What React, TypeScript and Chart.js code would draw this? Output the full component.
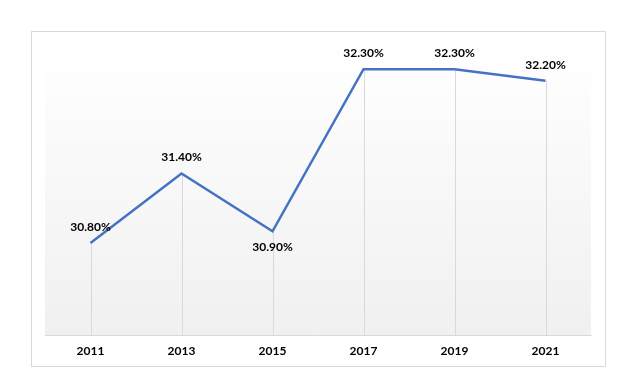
import React, { useEffect, useRef } from "react";
import { Chart, registerables } from "chart.js";

Chart.register(...registerables);

const years = ["2011", "2013", "2015", "2017", "2019", "2021"];
const values = [30.8, 31.4, 30.9, 32.3, 32.3, 32.2];
const labelBelow = [false, false, true, false, false, false];
const yMin = 30;
const yMax = 32.5;

const FONT = "Lato, 'Open Sans', sans-serif";

const decorPlugin = {
  id: "decor",
  beforeDraw(chart: any) {
    const { ctx, chartArea } = chart;
    ctx.save();
    ctx.fillStyle = "#ffffff";
    ctx.fillRect(0, 0, chart.width, chart.height);
    ctx.strokeStyle = "#d9d9d9";
    ctx.lineWidth = 1;
    ctx.strokeRect(31.5, 31.5, 574, 335);
    const g = ctx.createLinearGradient(0, chartArea.top, 0, chartArea.bottom);
    g.addColorStop(0, "#ffffff");
    g.addColorStop(1, "#f0f0f0");
    ctx.fillStyle = g;
    ctx.fillRect(chartArea.left, chartArea.top, chartArea.right - chartArea.left, chartArea.bottom - chartArea.top);
    ctx.restore();
  },
  beforeDatasetsDraw(chart: any) {
    const { ctx, chartArea } = chart;
    const meta = chart.getDatasetMeta(0);
    ctx.save();
    ctx.strokeStyle = "#d9d9d9";
    ctx.lineWidth = 1;
    meta.data.forEach((pt: any) => {
      const x = Math.round(pt.x) + 0.5;
      ctx.beginPath();
      ctx.moveTo(x, pt.y);
      ctx.lineTo(x, chartArea.bottom);
      ctx.stroke();
    });
    ctx.restore();
  },
  afterDatasetsDraw(chart: any) {
    const { ctx } = chart;
    const meta = chart.getDatasetMeta(0);
    ctx.save();
    ctx.fillStyle = "#000000";
    ctx.font = `bold 12px ${FONT}`;
    ctx.textAlign = "center";
    ctx.textBaseline = "middle";
    meta.data.forEach((pt: any, i: number) => {
      const txt = values[i].toFixed(2) + "%";
      const y = labelBelow[i] ? pt.y + 16 : pt.y - 16;
      ctx.fillText(txt, pt.x, y);
    });
    ctx.restore();
  },
};

export default function App() {
  const ref = useRef<HTMLCanvasElement>(null);
  useEffect(() => {
    document.body.style.margin = "0";
    const chart = new Chart(ref.current!, {
      type: "line",
      data: {
        labels: years,
        datasets: [
          {
            data: values,
            borderColor: "#4472C4",
            borderWidth: 2.5,
            pointRadius: 0,
            tension: 0,
            fill: false,
          },
        ],
      },
      options: {
        animation: false,
        responsive: false,
        events: [],
        layout: { padding: { left: 45, right: 41, top: 46, bottom: 16 } },
        plugins: { legend: { display: false }, tooltip: { enabled: false } },
        scales: {
          x: {
            offset: true,
            grid: { display: false, drawTicks: false },
            border: { display: true, color: "#d9d9d9", width: 1 },
            ticks: {
              color: "#000000",
              padding: 8,
              font: { family: FONT, size: 12, weight: "bold" },
            },
          },
          y: {
            display: false,
            min: yMin,
            max: yMax,
          },
        },
      },
      plugins: [decorPlugin],
    });
    return () => chart.destroy();
  }, []);
  return (
    <div style={{ width: 632, height: 382 }}>
      <canvas ref={ref} width={632} height={382} style={{ display: "block" }} />
    </div>
  );
}
